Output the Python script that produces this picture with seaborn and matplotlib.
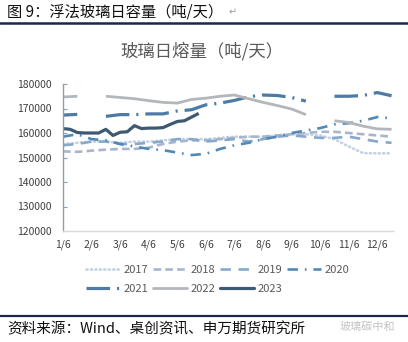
import numpy as np
import pandas as pd
import matplotlib
matplotlib.use("Agg")
import matplotlib.pyplot as plt
import seaborn as sns
from matplotlib.lines import Line2D

# ---------------- data ----------------
month_labels = ["1/6", "2/6", "3/6", "4/6", "5/6", "6/6",
                "7/6", "8/6", "9/6", "10/6", "11/6", "12/6"]
# positions in months since 1/6 (half-month sampling)
x_half = [0.0, 0.5, 1.0, 1.5, 2.0, 2.5, 3.0, 3.5, 4.0, 4.5, 5.0, 5.5,
          6.0, 6.5, 7.0, 7.5, 8.0, 8.5, 9.0, 9.5, 10.0, 10.5, 11.0, 11.5]
# 2023 sampled weekly up to early June
x_2023 = [0.0, 0.25, 0.5, 0.75, 1.0, 1.25, 1.5, 1.75, 2.0, 2.25,
          2.5, 2.75, 3.0, 3.25, 3.5, 3.75, 4.0, 4.25, 4.5, 4.75]

nan = np.nan
v2017 = [155500, 156000, 156500, 156500, 156000, 156500, 156500, 157000,
         157500, 157500, 157500, 158000, 158500, 158500, 158500, 159000,
         159500, 159500, 159000, 157500, 154500, 151800, 151700, 151700]
v2018 = [152500, 152300, 152800, 153200, 153500, 153500, 154000, 155500,
         156500, 157000, 157000, 157500, 158000, 158500, 158500, 159000,
         159500, 160000, 160500, 160500, 160000, 159500, 159000, 158500]
v2019 = [155000, 155500, 156500, 156500, 155500, 155500, 156000, 156500,
         157500, 157500, 156500, 157000, 157500, 156500, 157500, 158500,
         159000, 158500, 158000, 158000, 158500, 157500, 156500, 156000]
v2020 = [158500, 159500, 157500, 157000, 155500, 154500, 153500, 153000,
         152000, 151000, 151500, 153500, 155000, 156000, 157500, 158500,
         160000, 161000, 162000, 163500, 164000, 165000, 166500, 166000]
v2021 = [167300, 167600, nan, 166800, 167500, 167500, 167800, 167800,
         169000, 169500, 171500, 172200, 173300, 174800, 175500, 175300,
         174500, 173000, nan, 175000, 175000, 175300, 176500, 175200]
v2022 = [174700, 175000, nan, 175000, 174500, 174000, 173200, 172500,
         172200, 173700, 174200, 175000, 175500, 174000, 172500, 171200,
         169800, 167500, nan, 165000, 164300, 162800, 161700, 161500]
v2023 = [161800, 161500, 160200, 160000, 160000, 160000, 161500, 159000,
         160300, 160500, 163000, 161800, 162000, 162000, 162200, 163500,
         164700, 165000, 166500, 168000]

years = ["2017", "2018", "2019", "2020", "2021", "2022", "2023"]
series = {"2017": (x_half, v2017), "2018": (x_half, v2018),
          "2019": (x_half, v2019), "2020": (x_half, v2020),
          "2021": (x_half, v2021), "2022": (x_half, v2022),
          "2023": (x_2023, v2023)}

# ---------------- styles ----------------
styles = {
    "2017": dict(color="#c5d2e1", lw=1.9, ls=(0, (0.8, 2.4)), cap="round"),
    "2018": dict(color="#a9b5cc", lw=1.9, ls=(0, (5.5, 3.0)), cap="butt"),
    "2019": dict(color="#86a9cb", lw=1.9, ls=(0, (7.5, 5.5)), cap="butt"),
    "2020": dict(color="#4f89b7", lw=1.9, ls=(0, (7.5, 5.0, 1.2, 5.0)), cap="butt"),
    "2021": dict(color="#4d7ba6", lw=2.3, ls=(0, (17, 5, 1.5, 5)), cap="butt"),
    "2022": dict(color="#b3b7bc", lw=2.0, ls="-", cap="butt"),
    "2023": dict(color="#3e5a72", lw=2.3, ls="-", cap="butt"),
}

sns.set_theme(style="white")
plt.rcParams["font.family"] = ["Noto Sans CJK SC", "DejaVu Sans"]
plt.rcParams["lines.scale_dashes"] = False

W, H = 408, 342
fig = plt.figure(figsize=(W / 100, H / 100), dpi=100)
fig.patch.set_facecolor("white")
ax = fig.add_axes([63 / W, 1 - 231 / H, 330 / W, 147 / H])


def segments(xs, vs):
    df = pd.DataFrame({"x": xs, "v": vs})
    grp = df["v"].isna().cumsum()
    for _, part in df[df["v"].notna()].groupby(grp[df["v"].notna()]):
        if len(part) > 1:
            yield part


for yr in years:
    xs, vs = series[yr]
    st = styles[yr]
    for part in segments(xs, vs):
        sns.lineplot(data=part, x="x", y="v", ax=ax, color=st["color"],
                     linewidth=st["lw"], linestyle=st["ls"],
                     estimator=None, sort=False, legend=False,
                     dash_capstyle=st["cap"], solid_capstyle="butt")

ax.set_xlim(0, 11.55)
ax.set_ylim(120000, 180000)
ax.set_xticks(range(12))
ax.set_xticklabels(month_labels)
yticks = [120000, 130000, 140000, 150000, 160000, 170000, 180000]
ax.set_yticks(yticks)
ax.set_yticklabels([str(v) for v in yticks])
ax.set_xlabel("")
ax.set_ylabel("")
for s in ["top", "right"]:
    ax.spines[s].set_visible(False)
ax.spines["left"].set_color("#8d9fb2")
ax.spines["left"].set_linewidth(1.0)
ax.spines["bottom"].set_color("#d9d9d9")
ax.spines["bottom"].set_linewidth(1.0)
ax.tick_params(axis="y", direction="in", length=3, width=0.8,
               color="#8d9fb2", labelsize=7.5, labelcolor="#404040", pad=8,
               left=True)
ax.tick_params(axis="x", length=0, labelsize=7.5, labelcolor="#404040", pad=6)
ax.grid(False)

# chart title
fig.text(202 / W, 1 - 51 / H, "玻璃日熔量（吨/天）", ha="center", va="center",
         fontsize=12.5, color="#595959")

# header
fig.text(7 / W, 1 - 12 / H, "图 9：浮法玻璃日容量（吨/天）", ha="left",
         va="center", fontsize=11, color="#111111")
fig.text(229 / W, 1 - 12 / H, "↵", ha="left", va="center", fontsize=7,
         color="#9a9a9a", family=["DejaVu Sans"])
fig.add_artist(Line2D([0, 1], [1 - 23 / H, 1 - 23 / H], color="#1c2748",
                      lw=1.8, transform=fig.transFigure))

# footer
fig.add_artist(Line2D([0, 1], [1 - 316 / H, 1 - 316 / H], color="#1c2748",
                      lw=1.6, transform=fig.transFigure))
fig.text(7 / W, 1 - 329 / H, "资料来源：Wind、桌创资讯、申万期货研究所",
         ha="left", va="center", fontsize=10.5, color="#111111")
fig.text(395 / W, 1 - 327 / H, "玻璃碳中和", ha="right", va="center",
         fontsize=8, color="#c4c4c4")

# legend (row-major order in a 4-column layout)
legend_order = ["2017", "2021", "2018", "2022", "2019", "2023", "2020"]
handles = []
for yr in legend_order:
    st = styles[yr]
    handles.append(Line2D([], [], color=st["color"], lw=st["lw"],
                          linestyle=st["ls"], dash_capstyle=st["cap"]))
fig.legend(handles, legend_order, ncol=4, loc="upper left",
           bbox_to_anchor=(80 / W, 1 - 259 / H), frameon=False,
           fontsize=8, labelcolor="#595959", handlelength=3.1,
           handletextpad=0.35, columnspacing=0.35, borderpad=0,
           labelspacing=0.85)

fig.savefig("out.png", dpi=100, facecolor="white")
